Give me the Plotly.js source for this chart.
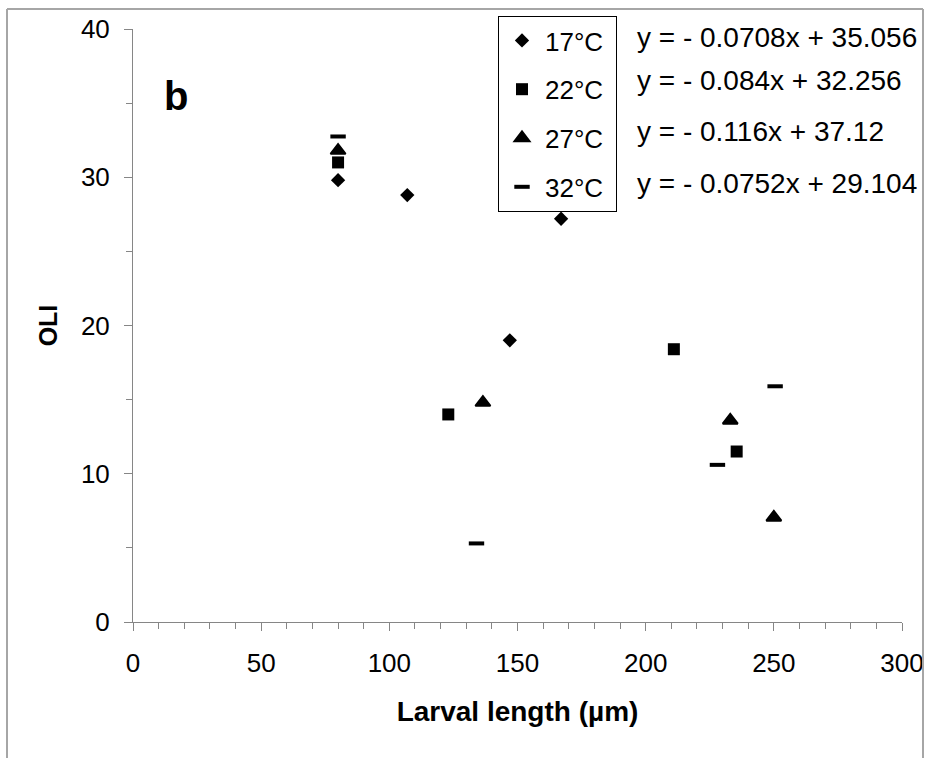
<!DOCTYPE html>
<html>
<head>
<meta charset="utf-8">
<script src="https://cdn.plot.ly/plotly-3.0.1.min.js"></script>
<style>
  html, body { margin: 0; padding: 0; background: #ffffff; }
  #chart { width: 925px; height: 758px; }
</style>
</head>
<body>
<div id="chart"></div>
<script>
// ---- data ----
var seriesNames = ['17°C', '22°C', '27°C', '32°C'];
var x17 = [80, 107, 147, 167];
var y17 = [29.8, 28.8, 19.0, 27.2];
var x22 = [80, 123, 211, 235.5];
var y22 = [31.0, 14.0, 18.4, 11.5];
var x27 = [80, 136.5, 233, 250];
var y27 = [31.8, 14.8, 13.6, 7.05];
var x32 = [80, 134, 228, 250.5];
var y32 = [32.75, 5.3, 10.6, 15.9];
var equations = [
  'y = - 0.0708x + 35.056',
  'y = - 0.084x + 32.256',
  'y = - 0.116x + 37.12',
  'y = - 0.0752x + 29.104'
];
var xTicks = [0, 50, 100, 150, 200, 250, 300];
var yTicks = [0, 10, 20, 30, 40];
var panelLabel = 'b';
var xTitle = 'Larval length (µm)';
var yTitle = 'OLI';

// ---- styling ----
var FONT = 'Arial, "Liberation Sans", Helvetica, sans-serif';
var AXIS_GRAY = '#868686';
var W = 925, H = 758;
var M = {l: 133, r: 23, t: 29, b: 136};
var PW = W - M.l - M.r, PH = H - M.t - M.b;
function px2paperX(px) { return (px - M.l) / PW; }
function px2paperY(py) { return (H - M.b - py) / PH; }

var xs = [x17, x22, x27, x32];
var ys = [y17, y22, y27, y32];
var markers = [
  {symbol: 'diamond', size: 11, color: '#000', line: {width: 0}},
  {symbol: 'square', size: 12, color: '#000', line: {width: 0}},
  {symbol: 'triangle-up', size: 13, color: '#000', line: {width: 2, color: '#000'}},
  {symbol: 'line-ew', size: 11, color: '#000', line: {width: 4, color: '#000'}}
];

var traces = seriesNames.map(function (n, i) {
  return {
    type: 'scatter',
    mode: 'markers',
    name: n + '\u00a0',
    x: xs[i],
    y: ys[i],
    legendgroup: 'g' + i,
    marker: markers[i],
    cliponaxis: false
  };
});

var eqY = [39.4, 36.5, 33.1, 29.6];
var annotations = equations.map(function (t, i) {
  return {
    text: t, xref: 'paper', yref: 'y',
    x: px2paperX(635), y: eqY[i],
    xanchor: 'left', yanchor: 'middle',
    showarrow: false,
    font: {family: FONT, size: 28, color: '#000'}
  };
});
annotations.push({
  text: '<b>' + panelLabel + '</b>', xref: 'x', yref: 'y',
  x: 16.8, y: 35.47, xanchor: 'center', yanchor: 'middle',
  showarrow: false,
  font: {family: FONT, size: 40, color: '#000'}
});

var frameColor = '#a6a6a6';
var fx0 = px2paperX(7), fx1 = px2paperX(923), fy1 = px2paperY(9), fy0 = px2paperY(800);
var shapes = [
  {type: 'line', xref: 'paper', yref: 'paper', x0: fx0, x1: fx0, y0: fy0, y1: fy1, line: {color: frameColor, width: 2}},
  {type: 'line', xref: 'paper', yref: 'paper', x0: fx0, x1: fx1, y0: fy1, y1: fy1, line: {color: frameColor, width: 2}},
  {type: 'line', xref: 'paper', yref: 'paper', x0: fx1, x1: fx1, y0: fy0, y1: fy1, line: {color: frameColor, width: 2}}
];

var layout = {
  width: W, height: H,
  margin: M,
  paper_bgcolor: '#ffffff',
  plot_bgcolor: '#ffffff',
  font: {family: FONT, color: '#000'},
  showlegend: true,
  legend: {
    x: px2paperX(498), y: px2paperY(16),
    xanchor: 'left', yanchor: 'top',
    bgcolor: '#ffffff',
    bordercolor: '#000', borderwidth: 1,
    font: {family: FONT, size: 26, color: '#000'},
    tracegroupgap: 12,
    itemwidth: 36,
    traceorder: 'grouped'
  },
  xaxis: {
    range: [0, 300],
    tickmode: 'array', tickvals: xTicks, ticktext: xTicks.map(String),
    ticks: 'outside', ticklen: 8, tickwidth: 1, tickcolor: AXIS_GRAY,
    minor: {dtick: 10, tick0: 0, ticks: 'outside', ticklen: 6, tickcolor: AXIS_GRAY, showgrid: false},
    showline: true, linecolor: AXIS_GRAY, linewidth: 1,
    showgrid: false, zeroline: false,
    tickfont: {family: FONT, size: 26, color: '#000'},
    ticklabelstandoff: 10,
    title: {text: '<b>' + xTitle + '</b>', font: {family: FONT, size: 28, color: '#000'}, standoff: 24},
    fixedrange: true
  },
  yaxis: {
    range: [0, 40],
    tickmode: 'array', tickvals: yTicks, ticktext: yTicks.map(String),
    ticks: 'outside', ticklen: 8, tickwidth: 1, tickcolor: AXIS_GRAY,
    minor: {dtick: 5, tick0: 0, ticks: 'outside', ticklen: 6, tickcolor: AXIS_GRAY, showgrid: false},
    showline: true, linecolor: AXIS_GRAY, linewidth: 1,
    showgrid: false, zeroline: false,
    tickfont: {family: FONT, size: 26, color: '#000'},
    ticklabelstandoff: 9,
    title: {text: '<b>' + yTitle + '</b>', font: {family: FONT, size: 25, color: '#000'}, standoff: 16},
    fixedrange: true
  },
  annotations: annotations,
  shapes: shapes
};

Plotly.newPlot('chart', traces, layout, {displayModeBar: false, staticPlot: true});
</script>
</body>
</html>
